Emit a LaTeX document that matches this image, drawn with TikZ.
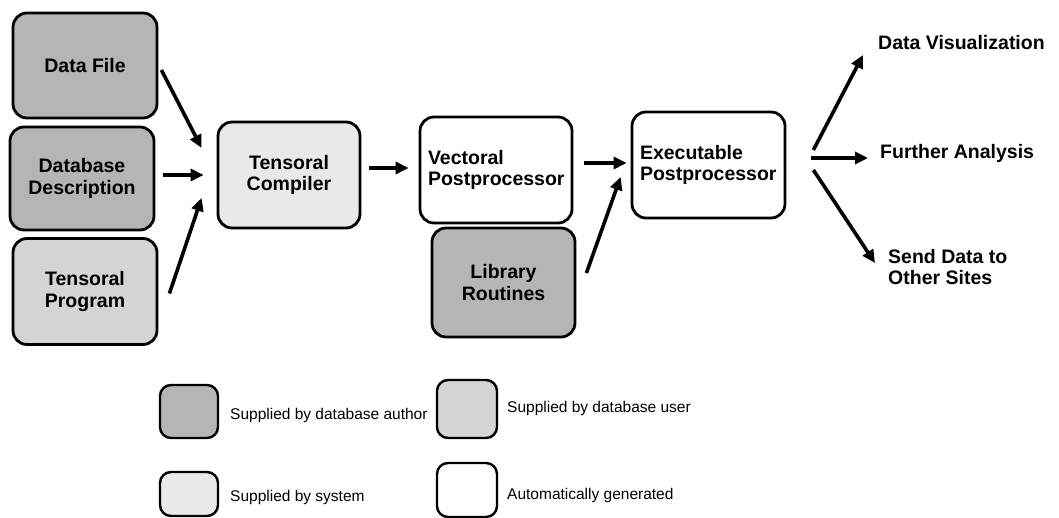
\documentclass[tikz,border=0pt]{standalone}
\usepackage{fontspec}
\setmainfont{Liberation Sans}
\usetikzlibrary{arrows.meta}
\begin{document}
\begin{tikzpicture}[x=1pt,y=-1pt,
  box/.style={draw=black,line width=2.8pt,rounded corners=14pt,inner sep=0pt,
    font=\bfseries\fontsize{19.5}{21.5}\selectfont,align=center},
  author/.style={box,fill=gray!58},
  user/.style={box,fill=gray!34},
  sys/.style={box,fill=gray!17},
  auto/.style={box,fill=white},
  swatch/.style={draw=black,line width=2.4pt,rounded corners=11pt,inner sep=0pt},
  lbl/.style={anchor=west,align=left,inner sep=0pt,font=\bfseries\fontsize{19.5}{21.5}\selectfont},
  leg/.style={anchor=west,inner sep=0pt,font=\fontsize{15.5}{18}\selectfont},
  arr/.style={line width=3.6pt,-{Triangle[length=13pt,width=12pt]}}
]
\path[use as bounding box] (0,0) rectangle (1059,518);

% main boxes
\node[author,minimum width=144pt,minimum height=105pt] (df) at (85,65.5) {Data File};
\node[author,minimum width=144pt,minimum height=103pt] (db) at (82,178.5) {Database\\Description};
\node[user,minimum width=144pt,minimum height=106pt] (prog) at (85,291.5) {Tensoral\\Program};
\node[sys,minimum width=142pt,minimum height=106pt] (cmp) at (289,175) {Tensoral\\Compiler};
\node[auto,minimum width=152pt,minimum height=106pt,text width=136pt,align=left,inner xsep=8pt] (vec) at (496,170) {Vectoral\\Postprocessor};
\node[author,minimum width=143pt,minimum height=109pt] (lib) at (503.5,282.5) {Library\\Routines};
\node[auto,minimum width=153pt,minimum height=106pt,text width=137pt,align=left,inner xsep=8pt] (exe) at (708.5,165) {Executable\\Postprocessor};

% output labels
\node[lbl] (dv) at (878,43) {Data Visualization};
\node[lbl] (fa) at (880,153) {Further Analysis};
\node[lbl] (sd) at (888,267) {Send Data to\\Other Sites};

% arrows
\draw[arr] ([xshift=3pt,yshift=-4.5pt]df.east) -- ([xshift=-15pt,yshift=27pt]cmp.west);
\draw[arr] ([xshift=8pt,yshift=3.5pt]db.east) -- ([xshift=-13pt,yshift=0pt]cmp.west);
\draw[arr] ([xshift=11pt,yshift=-2pt]prog.east) -- ([xshift=-15pt,yshift=-23pt]cmp.west);
\draw[arr] ([xshift=8pt,yshift=7pt]cmp.east) -- ([xshift=-10pt,yshift=2pt]vec.west);
\draw[arr] ([xshift=11pt,yshift=7pt]vec.east) -- ([xshift=-4pt,yshift=2pt]exe.west);
\draw[arr] ([xshift=10pt,yshift=9.5pt]lib.east) -- ([xshift=-10pt,yshift=-12pt]exe.west);
\draw[arr] ([xshift=27pt,yshift=15pt]exe.east) -- ([xshift=-15pt,yshift=-12pt]dv.west);
\draw[arr] ([xshift=25pt,yshift=7pt]exe.east) -- ([xshift=-12pt,yshift=-5pt]fa.west);
\draw[arr] ([xshift=27pt,yshift=-5pt]exe.east) -- ([xshift=-13pt,yshift=4pt]sd.west);

% legend
\node[swatch,fill=gray!58,minimum width=58pt,minimum height=53pt] (sa) at (189,411.5) {};
\node[leg] (ta) at (230,415) {Supplied by database author};
\node[swatch,fill=gray!34,minimum width=60pt,minimum height=58pt] (su) at (467,409) {};
\node[leg] (tu) at (507,408) {Supplied by database user};
\node[swatch,fill=gray!17,minimum width=58pt,minimum height=44pt] (ss) at (189,494) {};
\node[leg] (ts) at (230,497) {Supplied by system};
\node[swatch,fill=white,minimum width=60pt,minimum height=54pt] (sg) at (467,490) {};
\node[leg] (tg) at (507,495) {Automatically generated};
\end{tikzpicture}
\end{document}
